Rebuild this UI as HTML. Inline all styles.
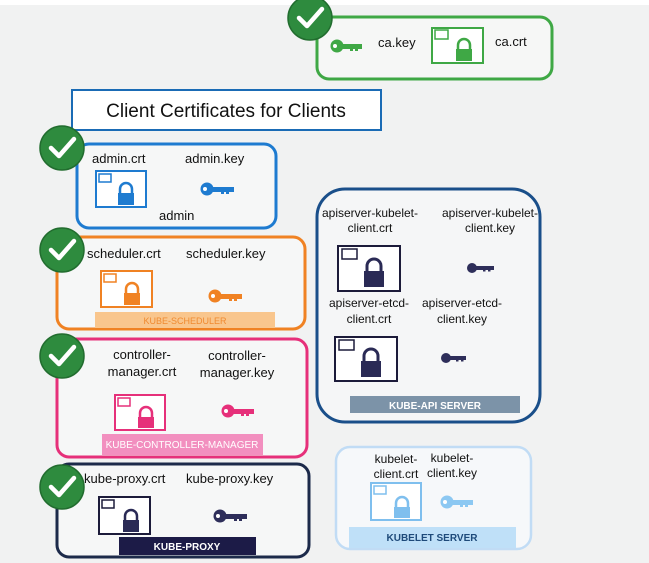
<!DOCTYPE html>
<html><head><meta charset="utf-8"><style>
html,body{margin:0;padding:0;background:#f1f2f2;}
svg{display:block;}
text{font-family:"Liberation Sans",sans-serif;fill:#111;}
</style></head><body>
<svg width="649" height="563" viewBox="0 0 649 563" xmlns="http://www.w3.org/2000/svg">
<defs>
<g id="chk"><circle r="22" fill="#2e8b3e" stroke="#226d2f" stroke-width="1.5"/><polyline points="-11,0 -3,8 12,-9" fill="none" stroke="#fff" stroke-width="4.5" stroke-linecap="round" stroke-linejoin="round"/></g>
</defs>
<rect x="0" y="0" width="649" height="5" fill="#fff"/>

<!-- CA -->
<rect x="317" y="17" width="235" height="62" rx="12" fill="#f6f7f6" stroke="#3fa845" stroke-width="3"/>
<g transform="translate(310,18)"><use href="#chk"/></g>
<g fill="#3fa845"><circle cx="337" cy="46" r="6.5"/><rect x="342" y="44" width="20" height="5"/><rect x="350" y="48" width="3" height="3"/><rect x="355" y="48" width="3" height="3"/></g>
<circle cx="335" cy="46" r="2" fill="#fff"/>
<text x="378" y="47" font-size="13">ca.key</text>
<rect x="432" y="28" width="51" height="35" fill="#fff" stroke="#3fa845" stroke-width="2"/>
<rect x="435" y="30" width="13" height="9" fill="#fff" stroke="#3fa845" stroke-width="1.5"/>
<path d="M458 50 v-5 a6 6 0 0 1 12 0 v5" fill="none" stroke="#3fa845" stroke-width="2.5"/><rect x="456" y="49" width="16" height="12" fill="#3fa845"/>
<text x="495" y="46" font-size="13">ca.crt</text>

<!-- Title -->
<rect x="72" y="90" width="309" height="40" fill="#fff" stroke="#1a6bb5" stroke-width="2"/>
<text x="226" y="117" font-size="19" text-anchor="middle">Client Certificates for Clients</text>

<!-- admin -->
<rect x="77" y="144" width="199" height="84" rx="12" fill="#f6f7f7" stroke="#1e7bd0" stroke-width="3"/>
<g transform="translate(62,148)"><use href="#chk"/></g>
<text x="92" y="163" font-size="13">admin.crt</text>
<text x="185" y="163" font-size="13">admin.key</text>
<rect x="96" y="171" width="50" height="36" fill="#fff" stroke="#1e7bd0" stroke-width="2"/>
<rect x="99" y="174" width="12" height="8" fill="#fff" stroke="#1e7bd0" stroke-width="1.5"/>
<path d="M120 194 v-5 a6 6 0 0 1 12 0 v5" fill="none" stroke="#1e7bd0" stroke-width="2.5"/><rect x="118" y="193" width="16" height="12" fill="#1e7bd0"/>
<g fill="#1e7bd0"><circle cx="207" cy="189" r="6.5"/><rect x="212" y="187" width="22" height="5"/><rect x="221" y="191" width="3" height="3"/><rect x="226" y="191" width="3" height="3"/></g>
<circle cx="205" cy="189" r="2" fill="#fff"/>
<text x="159" y="220" font-size="13">admin</text>

<!-- scheduler -->
<rect x="57" y="237" width="248" height="92" rx="12" fill="#f6f7f7" stroke="#f08223" stroke-width="3"/>
<g transform="translate(62,250)"><use href="#chk"/></g>
<text x="87" y="258" font-size="13">scheduler.crt</text>
<text x="186" y="258" font-size="13">scheduler.key</text>
<rect x="101" y="271" width="51" height="36" fill="#fff" stroke="#f08223" stroke-width="2"/>
<rect x="104" y="274" width="12" height="8" fill="#fff" stroke="#f08223" stroke-width="1.5"/>
<path d="M126 294 v-5 a6 6 0 0 1 12 0 v5" fill="none" stroke="#f08223" stroke-width="2.5"/><rect x="124" y="293" width="16" height="12" fill="#f08223"/>
<g fill="#f08223"><circle cx="215" cy="296" r="6.5"/><rect x="220" y="294" width="22" height="5"/><rect x="229" y="298" width="3" height="3"/><rect x="234" y="298" width="3" height="3"/></g>
<circle cx="213" cy="296" r="2" fill="#fff"/>
<rect x="95" y="312" width="180" height="16" fill="#f9c68d"/>
<text x="185" y="324" font-size="9" text-anchor="middle" style="fill:#f08a30">KUBE-SCHEDULER</text>

<!-- controller -->
<rect x="57" y="339" width="250" height="118" rx="12" fill="#f6f7f7" stroke="#e6307a" stroke-width="3"/>
<g transform="translate(62,356)"><use href="#chk"/></g>
<text x="142" y="359" font-size="13" text-anchor="middle">controller-</text>
<text x="142" y="376" font-size="13" text-anchor="middle">manager.crt</text>
<text x="237" y="360" font-size="13" text-anchor="middle">controller-</text>
<text x="237" y="377" font-size="13" text-anchor="middle">manager.key</text>
<rect x="115" y="395" width="50" height="35" fill="#fff" stroke="#e6307a" stroke-width="2"/>
<rect x="118" y="398" width="12" height="8" fill="#fff" stroke="#e6307a" stroke-width="1.5"/>
<path d="M140 418 v-5 a6 6 0 0 1 12 0 v5" fill="none" stroke="#e6307a" stroke-width="2.5"/><rect x="138" y="417" width="16" height="11" fill="#e6307a"/>
<g fill="#e6307a"><circle cx="228" cy="411" r="6.5"/><rect x="233" y="409" width="21" height="5"/><rect x="241" y="413" width="3" height="3"/><rect x="246" y="413" width="3" height="3"/></g>
<circle cx="226" cy="411" r="2" fill="#fff"/>
<rect x="102" y="434" width="161" height="21" fill="#f28fbf"/>
<text x="182" y="448" font-size="10" text-anchor="middle" style="fill:#fff">KUBE-CONTROLLER-MANAGER</text>

<!-- kube-proxy -->
<rect x="57" y="464" width="252" height="93" rx="12" fill="#f6f7f7" stroke="#1c2a4a" stroke-width="3"/>
<g transform="translate(62,487)"><use href="#chk"/></g>
<text x="84" y="483" font-size="13">kube-proxy.crt</text>
<text x="186" y="483" font-size="13">kube-proxy.key</text>
<rect x="99" y="497" width="51" height="37" fill="#fff" stroke="#1c1b3a" stroke-width="2"/>
<rect x="102" y="500" width="12" height="8" fill="#fff" stroke="#1c1b3a" stroke-width="1.5"/>
<path d="M125 521 v-5 a6 6 0 0 1 12 0 v5" fill="none" stroke="#2a2a55" stroke-width="2.5"/><rect x="123" y="520" width="16" height="12" fill="#2a2a55"/>
<g fill="#2e2e5a"><circle cx="220" cy="516" r="6.5"/><rect x="225" y="514" width="22" height="5"/><rect x="234" y="518" width="3" height="3"/><rect x="239" y="518" width="3" height="3"/></g>
<circle cx="218" cy="516" r="2" fill="#fff"/>
<rect x="119" y="537" width="137" height="18" fill="#1c1b47"/>
<text x="187" y="550" font-size="10" font-weight="bold" text-anchor="middle" style="fill:#fff">KUBE-PROXY</text>

<!-- api server -->
<rect x="317" y="189" width="223" height="233" rx="28" fill="#f5f6f7" stroke="#1a4f8a" stroke-width="3"/>
<text x="370" y="217" font-size="12" text-anchor="middle">apiserver-kubelet-</text>
<text x="370" y="232" font-size="12" text-anchor="middle">client.crt</text>
<text x="490" y="217" font-size="12" text-anchor="middle">apiserver-kubelet-</text>
<text x="490" y="232" font-size="12" text-anchor="middle">client.key</text>
<rect x="338" y="246" width="62" height="45" fill="#fff" stroke="#1c1b3a" stroke-width="2"/>
<rect x="342" y="249" width="15" height="10" fill="#fff" stroke="#1c1b3a" stroke-width="1.5"/>
<path d="M367 272 v-6 a7 7 0 0 1 14 0 v6" fill="none" stroke="#2a2a55" stroke-width="3"/><rect x="364" y="271" width="20" height="16" fill="#2a2a55"/>
<g fill="#2e2e5a"><circle cx="472" cy="268" r="5"/><rect x="476" y="266" width="18" height="4"/><rect x="483" y="269" width="2.5" height="2.5"/><rect x="488" y="269" width="2.5" height="2.5"/></g>
<text x="369" y="307" font-size="12" text-anchor="middle">apiserver-etcd-</text>
<text x="369" y="323" font-size="12" text-anchor="middle">client.crt</text>
<text x="462" y="307" font-size="12" text-anchor="middle">apiserver-etcd-</text>
<text x="462" y="323" font-size="12" text-anchor="middle">client.key</text>
<rect x="335" y="337" width="62" height="44" fill="#fff" stroke="#1c1b3a" stroke-width="2"/>
<rect x="339" y="340" width="15" height="10" fill="#fff" stroke="#1c1b3a" stroke-width="1.5"/>
<path d="M364 362 v-6 a7 7 0 0 1 14 0 v6" fill="none" stroke="#2a2a55" stroke-width="3"/><rect x="361" y="361" width="20" height="16" fill="#2a2a55"/>
<g fill="#2e2e5a"><circle cx="446" cy="358" r="5"/><rect x="450" y="356" width="16" height="4"/><rect x="456" y="359" width="2.5" height="2.5"/><rect x="461" y="359" width="2.5" height="2.5"/></g>
<rect x="350" y="396" width="170" height="17" fill="#7c93a8"/>
<text x="435" y="409" font-size="10" font-weight="bold" text-anchor="middle" style="fill:#fff">KUBE-API SERVER</text>

<!-- kubelet -->
<rect x="336" y="447" width="195" height="102" rx="14" fill="#f6f8fa" stroke="#c1dcf5" stroke-width="2.5"/>
<text x="396" y="463" font-size="12" text-anchor="middle">kubelet-</text>
<text x="396" y="478" font-size="12" text-anchor="middle">client.crt</text>
<text x="452" y="462" font-size="12" text-anchor="middle">kubelet-</text>
<text x="452" y="477" font-size="12" text-anchor="middle">client.key</text>
<rect x="371" y="483" width="50" height="37" fill="#fff" stroke="#7fbfee" stroke-width="2"/>
<rect x="374" y="486" width="12" height="8" fill="#fff" stroke="#7fbfee" stroke-width="1.5"/>
<path d="M396 508 v-5 a6 6 0 0 1 12 0 v5" fill="none" stroke="#7fbfee" stroke-width="2.5"/><rect x="394" y="507" width="16" height="11" fill="#7fbfee"/>
<g fill="#8cc8f2"><circle cx="447" cy="502" r="6.5"/><rect x="452" y="500" width="21" height="5"/><rect x="460" y="504" width="3" height="3"/><rect x="465" y="504" width="3" height="3"/></g>
<circle cx="445" cy="502" r="2" fill="#fff"/>
<rect x="349" y="527" width="167" height="21" fill="#bfe0f8"/>
<text x="432" y="541" font-size="10" font-weight="bold" text-anchor="middle" style="fill:#1e4a7a">KUBELET SERVER</text>
</svg>
</body></html>
